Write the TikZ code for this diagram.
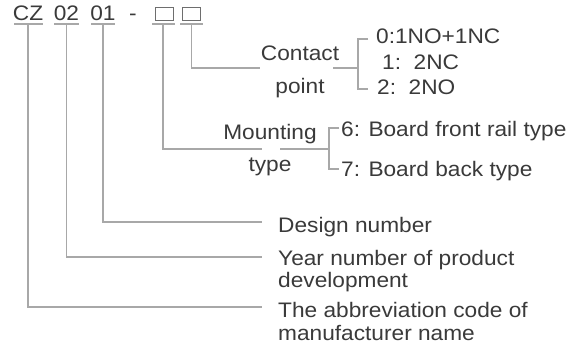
\documentclass[tikz,border=0pt]{standalone}
\usepackage{fontspec}
\setmainfont{Liberation Sans}[FakeStretch=1.08]
\definecolor{txtc}{HTML}{3A3A3A}
\definecolor{linec}{HTML}{A8A8A8}
\definecolor{boxc}{HTML}{6E6E6E}
\newcommand{\twolines}[2]{\vtop{\hbox{#1}\hbox{#2}}}
\begin{document}
\begin{tikzpicture}[x=1pt,y=-1pt,
  txt/.style={inner sep=0pt, text=txtc, font=\fontsize{21}{23}\selectfont},
  code/.style={txt, anchor=base},
  ln/.style={draw=linec, line width=1.4pt},
  codebox/.style={draw=boxc, line width=0.9pt, minimum width=18pt, minimum height=13pt, inner sep=0pt},
  uline/.style={fill=linec, draw=none, inner sep=0pt, minimum height=1.4pt, minimum width=#1},
]
\useasboundingbox (0,0) rectangle (582,345);
\fill[white] (0,0) rectangle (582,345);

% code line
\node[code] (cz) at (28,20.5) {CZ};
\node[code] (yr) at (66.5,20.5) {02};
\node[code] (ds) at (103,20.5) {01};
\node[code] (dash) at (133,20.5) {-};
\node[codebox] (b1) at (164,13.5) {};
\node[codebox] (b2) at (191,13.5) {};

\node[uline=29pt] (czu) at (28,24) {};
\node[uline=25pt] (yru) at (66.5,24) {};
\node[uline=24pt] (dsu) at (103,24) {};
\node[uline=23pt] (b1u) at (163,24) {};
\node[uline=23pt] (b2u) at (191.5,24) {};

% end points
\coordinate (abbrE) at (262,307);
\coordinate (yearE) at (262,257);
\coordinate (desE) at (262,222);
\coordinate (mountE) at (262,149);
\coordinate (mountS) at (280,149);
\coordinate (mountBr) at (329,149);
\coordinate (mT) at (339,128);
\coordinate (mB) at (339,169);
\coordinate (contE) at (260,68);
\coordinate (contS) at (333,68);
\coordinate (contBr) at (358,68);
\coordinate (cT) at (368,39);
\coordinate (cB) at (368,89);

% texts
\node[txt, anchor=base west] (des) at (278,233) {Design number};
\node[txt, anchor=base west] (year) at (278,265)
  {\twolines{Year number of product}{development}};
\node[txt, anchor=base west] (abbr) at (278,317)
  {\twolines{The abbreviation code of}{manufacturer name}};
\node[txt, anchor=base] (mount) at (270,140)
  {\begin{tabular}[t]{@{}c@{}}Mounting\\[8.5pt]type\end{tabular}};
\node[txt, anchor=base] (contact) at (300,61)
  {\begin{tabular}[t]{@{}c@{}}Contact\\[9.5pt]point\end{tabular}};

\node[txt, anchor=base west] (m6) at (341,137) {6: Board front rail type};
\node[txt, anchor=base west] (m7) at (341,176) {7: Board back type};
\node[txt, anchor=base west] (c0) at (376,44) {0:1NO+1NC};
\node[txt, anchor=base west] (c1) at (382,70) {1:\ \ 2NC};
\node[txt, anchor=base west] (c2) at (377,95) {2:\ \ 2NO};

% connectors
\draw[ln] (czu.south) |- (abbrE);
\draw[ln] (yru.south) |- (yearE);
\draw[ln] (dsu.south) |- (desE);
\draw[ln] (b1u.south) |- (mountE);
\draw[ln] (b2u.south) |- (contE);
\draw[ln] (mountS) -- (mountBr);
\draw[ln] (mT) -| (mountBr) |- (mB);
\draw[ln] (contS) -- (contBr);
\draw[ln] (cT) -| (contBr) |- (cB);
\end{tikzpicture}
\end{document}
